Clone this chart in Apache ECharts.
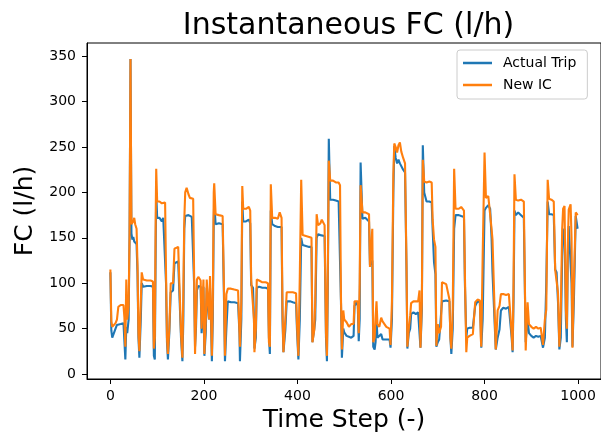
<!DOCTYPE html>
<html><head><meta charset="utf-8">
<script src="https://cdn.jsdelivr.net/npm/echarts@6/dist/echarts.min.js"></script>
<style>html,body{margin:0;padding:0;background:#fff}#c{width:601px;height:438px}</style>
</head><body><div id="c"></div>
<script>
const T = [0,2,4,7,11,14,17,22,28,30,32,34,36,39,41,43,45,47,49,51,53,56,58,60,62,65,67,70,78,86,91,93,95,97,98,100,105,110,113,117,119,121,123,126,129,134,137,140,145,149,151,154,156,158,160,163,167,170,174,177,179,181,183,185,188,193,195,197,199,201,204,206,209,211,213,215,217,219,221,222,225,232,240,243,245,248,251,258,265,273,276,277,280,282,284,290,296,299,301,305,307,308,311,313,318,325,332,337,339,341,343,346,352,358,362,366,368,370,374,377,385,390,397,399,402,405,408,411,418,425,430,432,436,438,441,444,449,452,458,461,463,465,467,470,476,482,488,491,493,495,498,500,505,510,515,520,522,526,529,531,533,535,539,545,549,553,555,558,560,562,565,567,569,571,575,579,582,586,590,594,597,599,602,605,607,610,613,616,619,622,626,630,633,635,638,641,643,648,653,658,661,663,666,668,671,676,682,687,689,692,695,697,700,703,707,709,713,718,722,725,727,729,732,735,738,745,750,756,758,761,763,768,775,778,780,785,790,792,793,796,800,803,808,812,815,817,821,824,828,832,835,840,846,852,856,858,860,862,864,867,872,878,884,886,888,890,892,895,900,905,910,915,920,923,925,929,932,935,938,943,948,951,954,957,960,963,966,968,971,974,976,978,980,984,986,988,991,995,999];
const actualTrip = [112,48,40,42,50,54,55,55,56,55,16,52,45,60,150,347,155,148,151,146,148,143,110,40,18,60,100,96,97,97,96,20,16,150,200,172,172,168,172,171,100,35,16,45,90,92,122,124,124,122,40,14,60,160,174,173,175,174,173,172,100,30,50,92,97,96,45,60,96,20,46,95,94,60,95,60,14,60,170,190,165,166,165,80,14,50,80,79,79,78,45,14,60,190,168,168,170,166,98,95,60,28,40,95,96,95,95,94,40,22,180,165,163,162,164,162,60,24,48,80,80,79,78,48,16,60,150,142,141,140,140,35,50,60,150,154,153,154,152,40,14,100,259,192,192,191,190,188,80,18,50,46,42,41,40,42,75,79,75,36,60,233,171,172,170,168,120,118,125,30,27,35,60,40,38,44,38,40,38,40,38,29,60,200,251,238,232,236,232,230,225,222,120,28,45,50,66,68,66,68,68,29,70,252,200,190,190,189,160,123,110,30,35,38,40,80,82,81,80,80,40,22,50,160,175,175,174,173,100,40,50,51,51,50,75,80,79,50,29,60,180,183,186,182,150,112,110,27,40,49,70,73,72,74,74,40,24,80,180,175,178,175,172,100,35,50,60,45,42,40,42,41,42,40,29,40,100,190,176,176,175,115,112,80,27,40,130,156,160,60,35,130,163,162,100,30,80,174,160];
const newIC = [115,58,52,50,56,60,74,76,76,62,30,104,60,75,155,347,165,163,168,172,165,160,120,45,25,80,112,104,103,103,102,28,40,180,226,190,190,188,190,189,110,40,22,50,100,100,138,140,140,138,45,18,90,170,200,205,198,194,195,193,110,22,60,104,107,103,50,80,104,22,60,104,102,60,108,70,20,80,200,210,176,175,174,90,20,88,94,94,93,92,46,30,80,207,182,182,184,180,104,104,60,24,50,104,103,101,101,100,35,30,209,172,172,171,178,172,70,24,60,90,90,90,89,55,20,108,214,153,152,151,150,35,49,80,176,164,166,170,164,45,20,120,235,213,213,211,211,208,85,27,70,60,57,52,55,55,80,82,80,45,100,208,178,178,178,176,118,120,160,35,40,62,80,55,52,62,58,60,52,52,50,32,80,220,254,250,244,252,255,245,238,232,125,30,50,64,78,80,80,80,92,29,80,236,212,211,212,211,170,148,140,31,55,45,52,101,99,99,98,82,40,28,70,226,182,182,184,180,110,24,40,42,44,45,79,82,81,40,30,130,244,194,196,194,160,148,147,27,70,75,88,88,87,88,87,45,26,100,220,192,191,192,190,110,26,55,79,55,52,50,52,50,51,50,32,60,71,214,193,192,190,115,113,90,30,70,160,182,185,70,50,140,181,187,150,29,100,178,175];
const xTicks = [0,200,400,600,800,1000];
const yTicks = [0,50,100,150,200,250,300,350];

const FONT = 'DejaVu Sans';
const chart = echarts.init(document.getElementById('c'), null, {renderer:'canvas'});
chart.setOption({
  animation: false,
  backgroundColor: '#fff',
  title: {
    text: 'Instantaneous FC (l/h)', left: 343.5, top: 6, textAlign: 'center',
    textStyle: {fontFamily: FONT, fontSize: 30, fontWeight: 'normal', color: '#000'}
  },
  legend: {
    orient: 'vertical', left: 457, top: 50,
    data: ['Actual Trip', 'New IC'],
    icon: 'rect', itemWidth: 29, itemHeight: 2.5, itemGap: 8,
    padding: [6, 11, 7, 6],
    borderColor: '#cccccc', borderWidth: 1, borderRadius: 3,
    backgroundColor: 'rgba(255,255,255,0.8)',
    textStyle: {fontFamily: FONT, fontSize: 14, color: '#000', lineHeight: 14, padding: [0,0,0,6]}
  },
  grid: {left: 87, top: 43, width: 514, height: 338, show: true, borderColor: '#000', borderWidth: 1, containLabel: false},
  xAxis: {
    type: 'value', min: -50, max: 1049,
    name: 'Time Step (-)', nameLocation: 'middle', nameGap: 29,
    nameTextStyle: {fontFamily: FONT, fontSize: 25, color: '#000'},
    axisLine: {show: true, onZero: false, lineStyle: {color: '#000', width: 1}},
    axisTick: {show: true, customValues: xTicks, length: 5, lineStyle: {color: '#000'}},
    axisLabel: {customValues: xTicks, margin: 10, fontFamily: FONT, fontSize: 14, color: '#000',
                formatter: v => String(v)},
    splitLine: {show: false}
  },
  yAxis: {
    type: 'value', min: -5.5, max: 364.6,
    name: 'FC (l/h)', nameLocation: 'middle', nameGap: 42,
    nameTextStyle: {fontFamily: FONT, fontSize: 25, color: '#000'},
    axisLine: {show: true, onZero: false, lineStyle: {color: '#000', width: 1}},
    axisTick: {show: true, customValues: yTicks, length: 5, lineStyle: {color: '#000'}},
    axisLabel: {customValues: yTicks, margin: 11, fontFamily: FONT, fontSize: 14, color: '#000',
                formatter: v => String(v)},
    splitLine: {show: false}
  },
  series: [
    {name: 'Actual Trip', type: 'line', showSymbol: false, symbol: 'none', color: '#1f77b4',
     lineStyle: {width: 2.1, color: '#1f77b4'}, data: T.map((t, i) => [t, actualTrip[i]])},
    {name: 'New IC', type: 'line', showSymbol: false, symbol: 'none', color: '#ff7f0e',
     lineStyle: {width: 2.1, color: '#ff7f0e'}, data: T.map((t, i) => [t, newIC[i]])}
  ]
});
</script></body></html>
